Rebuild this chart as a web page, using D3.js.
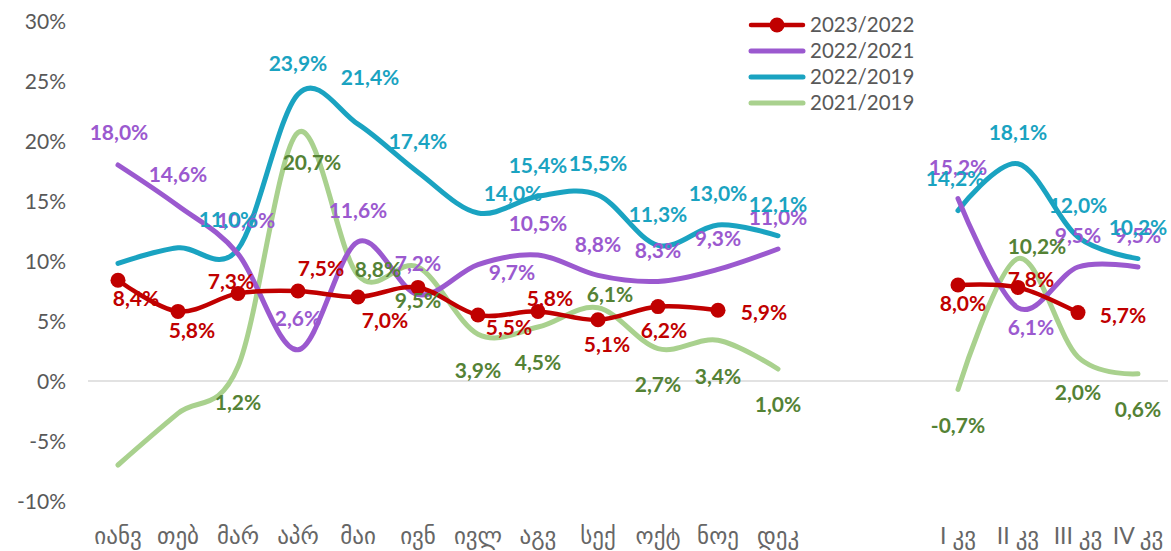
<!DOCTYPE html>
<html>
<head>
<meta charset="utf-8">
<script src="https://cdn.jsdelivr.net/npm/d3@7"></script>
<style>
  body { margin: 0; background: #fff; }
  svg { display: block; }
  .tick-label { font-family: Lato, "DejaVu Sans", sans-serif; fill: #595959; }
  .cat-label { font-family: Lato, "DejaVu Sans", sans-serif; fill: #666; }
  .val { font-family: Lato, sans-serif; font-weight: bold; font-size: 21px; }
</style>
</head>
<body>
<div id="chart"></div>
<script>
// categories: 12 months, two empty slots, 4 quarters
const categories = ["იანვ", "თებ", "მარ", "აპრ", "მაი", "ივნ", "ივლ", "აგვ", "სექ", "ოქტ", "ნოე", "დეკ",
  "", "", "I კვ", "II კვ", "III კვ", "IV კვ"];

const seriesNames = ["2023/2022", "2022/2021", "2022/2019", "2021/2019"];

const v2023_2022 = [8.4, 5.8, 7.3, 7.5, 7.0, 7.8, 5.5, 5.8, 5.1, 6.2, 5.9, null, null, null, 8.0, 7.8, 5.7, null];
const v2022_2021 = [18.0, 14.6, 10.6, 2.6, 11.6, 7.2, 9.7, 10.5, 8.8, 8.3, 9.3, 11.0, null, null, 15.2, 6.1, 9.5, 9.5];
const v2022_2019 = [9.8, 11.1, 11.0, 23.9, 21.4, 17.4, 14.0, 15.4, 15.5, 11.3, 13.0, 12.1, null, null, 14.2, 18.1, 12.0, 10.2];
const v2021_2019 = [-7.0, -2.7, 1.2, 20.7, 8.8, 9.5, 3.9, 4.5, 6.1, 2.7, 3.4, 1.0, null, null, -0.7, 10.2, 2.0, 0.6];

const yTicks = [-10, -5, 0, 5, 10, 15, 20, 25, 30];

// label placement (dx, dy from the point), null = label not shown
const A = [0, -31], B = [0, 36];
const lbl2023_2022 = [[18, 18], [14, 19], [-7, -12], [23, -22], [27, 24], null, [31, 13], [12, -13], [9, 25], [6, 24], [46, 2],
  null, null, null, [5, 19], [13, -8], [45, 3], null];
const lbl2022_2021 = [[1, -32], A, [8, -33], A, A, A, [34, 8], A, A, A, A, A, null, null, A, [13, 20], A, A];
const lbl2022_2019 = [null, null, [-10, -29], A, [12, -47], A, [35, -19], A, A, A, A, A, null, null, [-3, -32], A, A, A];
const lbl2021_2019 = [null, null, B, [14, 30], [20, -6], [0, 34], B, B, [12, -13], B, B, B, null, null, B, [19, -12], B, B];

const series = [
  { name: seriesNames[0], values: v2023_2022, labels: lbl2023_2022, line: "#C00000", text: "#C00000", width: 4.5, marker: true },
  { name: seriesNames[1], values: v2022_2021, labels: lbl2022_2021, line: "#9B59CF", text: "#9B59CF", width: 5 },
  { name: seriesNames[2], values: v2022_2019, labels: lbl2022_2019, line: "#1AA3C1", text: "#1AA3C1", width: 5 },
  { name: seriesNames[3], values: v2021_2019, labels: lbl2021_2019, line: "#A9D18E", text: "#548235", width: 5 }
];

const W = 1171, H = 551;
const svg = d3.select("#chart").append("svg").attr("width", W).attr("height", H);

const x = d3.scaleBand().domain(d3.range(categories.length)).range([88, 1168]).padding(0);
const cx = i => x(i) + x.bandwidth() / 2;
const y = d3.scaleLinear().domain([-10, 30]).range([501, 21]);

// zero line
svg.append("line")
  .attr("x1", 88).attr("x2", 1168)
  .attr("y1", y(0)).attr("y2", y(0))
  .attr("stroke", "#D9D9D9").attr("stroke-width", 1.5);

// y axis labels
const yAxis = d3.axisLeft(y).tickValues(yTicks).tickFormat(d => d + "%").tickSize(0).tickPadding(0);
const gy = svg.append("g").attr("transform", "translate(66,0)").call(yAxis);
gy.select(".domain").remove();
gy.selectAll("text").attr("class", "tick-label").style("font-size", "21px").attr("dy", "0.35em");

// x axis labels
const xAxis = d3.axisBottom(x).tickFormat(i => categories[i]).tickSize(0).tickPadding(0);
const gx = svg.append("g").attr("transform", "translate(0,525)").call(xAxis);
gx.select(".domain").remove();
gx.selectAll("text").attr("class", "cat-label").style("font-size", "23px").attr("dy", "0.35em").attr("y", 11);

const line = d3.line()
  .defined(d => d != null)
  .x((d, i) => cx(i))
  .y(d => y(d))
  .curve(d3.curveCardinal.tension(0));

// draw lines, last series at the bottom
[...series].reverse().forEach(s => {
  svg.append("path")
    .datum(s.values)
    .attr("fill", "none")
    .attr("stroke", s.line)
    .attr("stroke-width", s.width)
    .attr("stroke-linecap", "round")
    .attr("d", line);
  if (s.marker) {
    svg.selectAll(null)
      .data(s.values.map((v, i) => ({ v, i })).filter(d => d.v != null))
      .enter().append("circle")
      .attr("cx", d => cx(d.i))
      .attr("cy", d => y(d.v))
      .attr("r", 7.5)
      .attr("fill", s.line);
  }
});

// data labels
const fmt = v => v.toFixed(1).replace(".", ",") + "%";
series.forEach(s => {
  svg.selectAll(null)
    .data(s.values.map((v, i) => ({ v, i, o: s.labels[i] })).filter(d => d.v != null && d.o))
    .enter().append("text")
    .attr("class", "val")
    .attr("fill", s.text)
    .attr("text-anchor", "middle")
    .attr("dy", "0.35em")
    .attr("x", d => cx(d.i) + d.o[0])
    .attr("y", d => y(d.v) + d.o[1])
    .text(d => fmt(d.v));
});

// legend
const legend = svg.append("g");
series.forEach((s, k) => {
  const ly = 25 + k * 26;
  legend.append("line")
    .attr("x1", 751).attr("x2", 803).attr("y1", ly).attr("y2", ly)
    .attr("stroke", s.line).attr("stroke-width", s.width).attr("stroke-linecap", "round");
  if (s.marker) legend.append("circle").attr("cx", 777).attr("cy", ly).attr("r", 7.5).attr("fill", s.line);
  legend.append("text")
    .attr("class", "tick-label")
    .style("font-size", "20.5px")
    .attr("x", 810).attr("y", ly).attr("dy", "0.35em")
    .text(s.name);
});
</script>
</body>
</html>
